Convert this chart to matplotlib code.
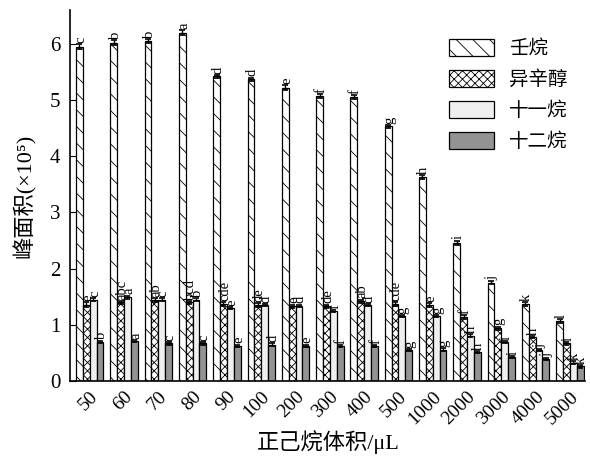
import numpy as np
import matplotlib
matplotlib.use("Agg")
import matplotlib.pyplot as plt

plt.rcParams['font.family'] = ['Liberation Serif', 'Noto Sans CJK SC']
plt.rcParams['hatch.linewidth'] = 0.6

# 正己烷体积 (μL)
volumes = ['50', '60', '70', '80', '90', '100', '200', '300', '400', '500',
           '1000', '2000', '3000', '4000', '5000']
series_names = ['壬烷', '异辛醇', '十一烷', '十二烷']

# 峰面积 (×10^5)
nonane = [5.95, 6.02, 6.05, 6.20, 5.42, 5.37, 5.22, 5.07, 5.05, 4.53,
          3.63, 2.46, 1.75, 1.37, 1.07]
isooctanol = [1.36, 1.40, 1.44, 1.40, 1.37, 1.35, 1.33, 1.33, 1.42, 1.37,
              1.35, 1.14, 0.94, 0.78, 0.67]
undecane = [1.45, 1.49, 1.45, 1.45, 1.30, 1.35, 1.34, 1.25, 1.35, 1.16,
            1.16, 0.81, 0.69, 0.55, 0.33]
dodecane = [0.70, 0.71, 0.67, 0.67, 0.63, 0.65, 0.63, 0.62, 0.62, 0.55,
            0.56, 0.52, 0.43, 0.39, 0.26]

nonane_err = [0.04, 0.04, 0.04, 0.04, 0.03, 0.03, 0.04, 0.03, 0.04, 0.03,
              0.03, 0.04, 0.03, 0.03, 0.03]
isooctanol_err = [0.04, 0.03, 0.03, 0.03, 0.03, 0.03, 0.03, 0.03, 0.03, 0.03,
                  0.03, 0.03, 0.03, 0.02, 0.02]
undecane_err = [0.03, 0.03, 0.02, 0.03, 0.02, 0.02, 0.02, 0.02, 0.02, 0.02,
                0.02, 0.02, 0.02, 0.02, 0.02]
dodecane_err = [0.02, 0.02, 0.02, 0.02, 0.02, 0.02, 0.02, 0.02, 0.02, 0.02,
                0.02, 0.02, 0.02, 0.02, 0.02]

# significance letters
nonane_sig = ['c', 'b', 'b', 'a', 'd', 'd', 'e', 'f', 'f', 'g',
              'h', 'i', 'j', 'k', 'l']
isooctanol_sig = ['e', 'abc', 'ab', 'bcd', 'cde', 'de', 'e', 'de', 'ab', 'cde',
                  'e', 'f', 'g', 'h', 'i']
undecane_sig = ['c', 'a', 'c', 'b', 'e', 'd', 'd', 'f', 'd', 'g',
                'g', 'h', 'i', 'j', 'k']
dodecane_sig = ['b', 'a', 'c', 'c', 'e', 'd', 'e', 'f', 'f', 'g',
                'g', 'h', 'i', 'j', 'k']

values = [nonane, isooctanol, undecane, dodecane]
errors = [nonane_err, isooctanol_err, undecane_err, dodecane_err]
letters = [nonane_sig, isooctanol_sig, undecane_sig, dodecane_sig]
faces = ['white', 'white', '#efefef', '#939393']
hatches = ['\\\\', 'xxxx', '', '']

fig = plt.figure(figsize=(5.9, 4.58), dpi=100)
ax = fig.add_axes([0.119, 0.168, 0.873, 0.81])

x = np.arange(len(volumes))
w = 0.2
for i in range(4):
    pos = x + (i - 1.5) * w
    ax.bar(pos, values[i], w, color=faces[i], edgecolor='black',
           linewidth=0.9, hatch=hatches[i], label=series_names[i])
    ax.errorbar(pos, values[i], yerr=errors[i], fmt='none', ecolor='black',
                elinewidth=1.0, capsize=2.2, capthick=1.2)
    # letters sit just right of the bar centre
    for xp, v, e, s in zip(pos, values[i], errors[i], letters[i]):
        ax.text(xp + 0.04, v + e + 0.02, s, rotation=90, ha='center',
                va='bottom', fontsize=10.5)

ax.set_xlim(-0.57, 14.45)
ax.set_ylim(0, 6.6)
ax.set_yticks(range(7))
ax.set_xticks(x)
ax.set_xticklabels(volumes, rotation=45, ha='right', rotation_mode='anchor')
ax.tick_params(axis='y', direction='in', length=4, labelsize=15, pad=7)
ax.tick_params(axis='x', length=0, labelsize=14, pad=5)
ax.spines['top'].set_visible(False)
ax.spines['right'].set_visible(False)
ax.spines['left'].set_linewidth(1.2)
ax.spines['bottom'].set_linewidth(1.2)

ax.set_xlabel('正己烷体积/μL', fontsize=16, labelpad=2)
ax.set_ylabel('峰面积(×10⁵)', fontsize=16, labelpad=10)

ax.legend(loc='upper right', bbox_to_anchor=(1.0, 0.97), frameon=False,
          fontsize=14, handlelength=2.3, handleheight=1.0, labelspacing=0.6,
          handletextpad=0.8)

fig.savefig('out.png', dpi=100)
